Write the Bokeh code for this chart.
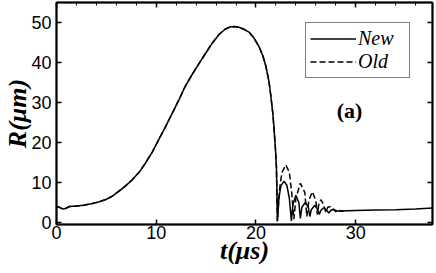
from bokeh.plotting import figure
from bokeh.models import LinearAxis, Range1d, Legend, LegendItem, Label, FixedTicker
from bokeh.embed import file_html
from bokeh.resources import INLINE

# Shared growth/collapse phase (t in microseconds, R in micrometres)
t_growth = [0.0, 0.3, 0.6, 0.9, 1.3, 2.0, 2.7, 3.5, 4.2, 5.0, 5.6, 6.2, 6.9, 7.6, 8.3,
            8.9, 9.6, 10.25, 10.9, 11.6, 12.3, 12.9, 13.6, 14.3, 15.0, 15.6, 16.3, 16.9,
            17.4, 17.8, 18.3, 18.8, 19.3, 19.8, 20.3, 20.7, 21.0, 21.3, 21.5, 21.7, 21.8,
            21.95, 22.05, 22.15]
r_growth = [4.0, 3.8, 3.4, 3.5, 4.0, 4.1, 4.3, 4.7, 5.1, 5.8, 6.6, 7.7, 9.1, 10.7, 12.6,
            14.8, 17.6, 20.7, 23.8, 27.3, 30.8, 34.0, 37.0, 39.8, 42.5, 44.8, 47.0, 48.3,
            48.9, 49.0, 48.8, 48.3, 47.6, 46.1, 44.0, 41.6, 39.0, 35.3, 31.5, 27.0, 23.8,
            18.5, 14.0, 0.3]

# Rebound phase, new model
t_new_tail = [22.3, 22.5, 22.8, 23.1, 23.35, 23.55, 23.7, 24.0, 24.3, 24.45, 24.6, 24.95,
              25.25, 25.4, 25.55, 25.9, 26.2, 26.35, 26.5, 26.8, 27.1, 27.3, 27.5, 27.8,
              28.1, 28.5, 30.0, 32.0, 34.0, 36.0, 37.7]
r_new_tail = [6.0, 9.2, 10.3, 9.3, 6.0, 0.4, 4.5, 6.8, 5.0, 1.0, 3.8, 5.0,
              3.8, 1.5, 3.2, 4.3, 3.2, 2.0, 3.0, 3.7, 3.0, 2.4, 3.0, 3.3,
              2.9, 2.9, 3.0, 3.1, 3.2, 3.4, 3.6]

# Rebound phase, old model
t_old_tail = [22.35, 22.6, 23.0, 23.35, 23.6, 23.8, 24.0, 24.45, 24.9, 25.1, 25.3, 25.65,
              26.0, 26.15, 26.3, 26.5, 26.8, 27.0, 27.2, 27.5, 27.8, 28.0, 28.2, 28.5, 28.8]
r_old_tail = [8.0, 12.5, 14.4, 12.5, 7.0, 0.8, 6.0, 9.8, 7.5, 1.5, 5.5, 7.7,
              5.5, 2.0, 4.5, 5.7, 4.5, 2.5, 3.8, 4.0, 3.2, 2.7, 3.3, 2.8, 2.9]

x_ticks = [0, 10, 20, 30]
y_ticks = [0, 10, 20, 30, 40, 50]
x_minor = [2, 4, 6, 8, 12, 14, 16, 18, 22, 24, 26, 28, 32, 34, 36]

t_new = t_growth + t_new_tail
r_new = r_growth + r_new_tail
t_old = t_growth + t_old_tail
r_old = r_growth + r_old_tail

p = figure(width=434, height=271, output_backend="svg", toolbar_location=None,
           x_range=Range1d(0, 37.7), y_range=Range1d(-0.5, 55),
           min_border_left=56, min_border_right=2, min_border_top=2, min_border_bottom=47)
p.xgrid.visible = False
p.ygrid.visible = False
p.outline_line_color = "black"
p.outline_line_width = 1.5
p.background_fill_color = "white"
p.border_fill_color = "white"

def style_axis(ax, labels=True):
    ax.axis_line_color = "black"
    ax.axis_line_width = 2
    ax.major_tick_in = 5
    ax.major_tick_out = 0
    ax.major_tick_line_color = "black"
    ax.major_tick_line_width = 1.5
    ax.minor_tick_line_color = None
    if labels:
        ax.major_label_text_font = "Liberation Sans"
        ax.major_label_text_font_size = "18px"
        ax.major_label_text_color = "black"
    else:
        ax.major_label_overrides = {t: "" for t in (x_ticks + y_ticks)}
        ax.major_label_text_font_size = "1px"
        ax.major_label_standoff = 0

xa = p.xaxis[0]
ya = p.yaxis[0]
xa.ticker = FixedTicker(ticks=x_ticks)
ya.ticker = FixedTicker(ticks=y_ticks)
style_axis(xa)
style_axis(ya)
xa.major_label_standoff = 1
ya.major_label_standoff = 5
xa.axis_label = "t(μs)"
ya.axis_label = "R(μm)"
for ax in (xa, ya):
    ax.axis_label_text_font = "Liberation Serif"
    ax.axis_label_text_font_style = "bold italic"
    ax.axis_label_text_font_size = "26px"
    ax.axis_label_text_color = "black"
xa.axis_label_standoff = -6
ya.axis_label_standoff = -4

top = LinearAxis(ticker=FixedTicker(ticks=x_ticks, minor_ticks=x_minor))
style_axis(top, labels=False)
top.minor_tick_line_color = "black"
top.minor_tick_in = 3
top.minor_tick_out = 0
p.add_layout(top, "above")

right = LinearAxis(ticker=FixedTicker(ticks=y_ticks))
style_axis(right, labels=False)
p.add_layout(right, "right")

r_o = p.line(t_old, r_old, line_color="black", line_width=1.5, line_dash="6 3")
r_n = p.line(t_new, r_new, line_color="black", line_width=1.5)

legend = Legend(items=[LegendItem(label="New", renderers=[r_n]),
                       LegendItem(label="Old", renderers=[r_o])],
                location=(249, 146), margin=0, padding=4, spacing=0,
                glyph_width=46, glyph_height=19, label_height=19, label_width=47,
                label_standoff=2,
                label_text_font="Liberation Serif", label_text_font_style="italic",
                label_text_font_size="20px", label_text_color="black",
                border_line_color="black", border_line_width=1,
                background_fill_color="white", background_fill_alpha=1)
p.add_layout(legend)

p.add_layout(Label(x=28.1, y=28.1, text="(a)", text_font="Liberation Serif",
                   text_font_style="bold", text_font_size="22px", text_color="black",
                   text_baseline="middle", text_align="left"))

open("out.html", "w").write(file_html(p, INLINE))
